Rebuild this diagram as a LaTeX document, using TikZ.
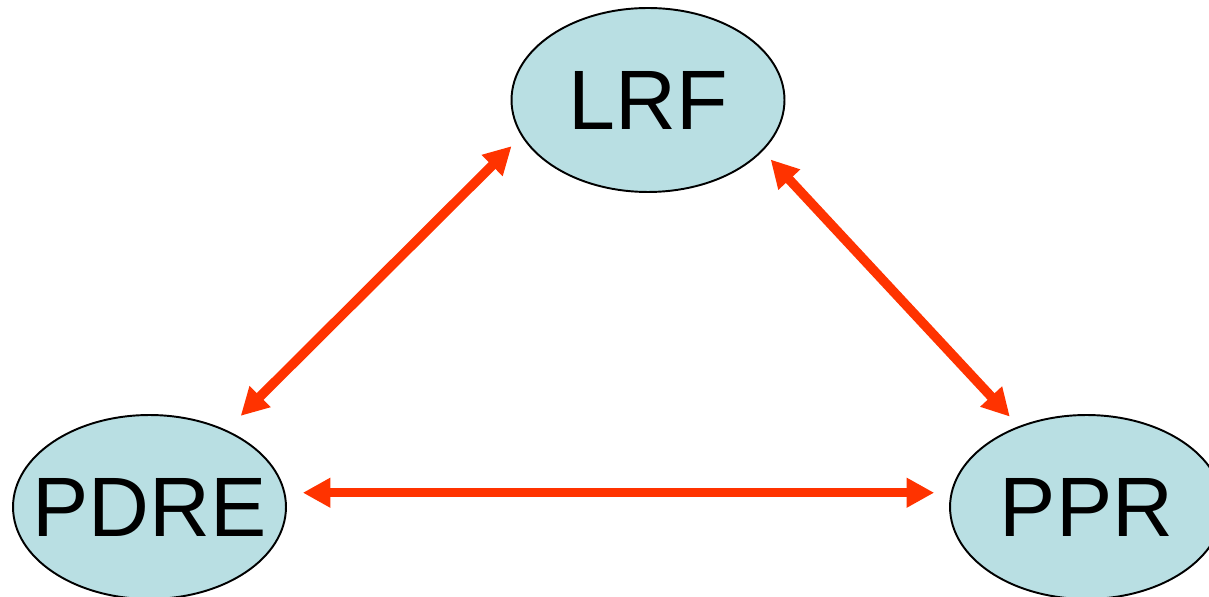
\documentclass[tikz,border=0pt]{standalone}
\usepackage{fontspec}
\setmainfont{Liberation Sans}
\usepackage{xcolor}
\usepackage{tikz}
\usetikzlibrary{arrows.meta}
\usetikzlibrary{shapes.geometric}

\definecolor{topicfill}{RGB}{185,223,227}
\definecolor{linkred}{RGB}{255,51,0}

\tikzset{
  topic/.style={ellipse, draw=black, line width=1.1pt, fill=topicfill,
    minimum width=5.46cm, minimum height=3.68cm, inner sep=-0.6cm,
    font=\fontsize{48}{58}\selectfont},
  link/.style={{Triangle[length=0.55cm,width=0.56cm]}-{Triangle[length=0.55cm,width=0.56cm]},
    draw=linkred, line width=0.19cm}
}

\begin{document}
\begin{tikzpicture}[x=0.02cm, y=-0.02cm]
\useasboundingbox (0, 0) rectangle (1209, 597);
\node [topic] (LRF) at (648, 100) {LRF};
\node [topic] (PDRE) at (149.5, 507) {PDRE};
\node [topic] (PPR) at (1086.5, 507) {PPR};
\draw [link, shorten <=0.28cm, shorten >=0.40cm] (LRF.196) to (PDRE.45);
\draw [link, shorten <=0.23cm, shorten >=0.26cm] (LRF.336) to (PPR.130);
\draw [link, shorten <=0.35cm, shorten >=0.33cm] (PDRE.6) to (PPR.174);
\end{tikzpicture}
\end{document}
